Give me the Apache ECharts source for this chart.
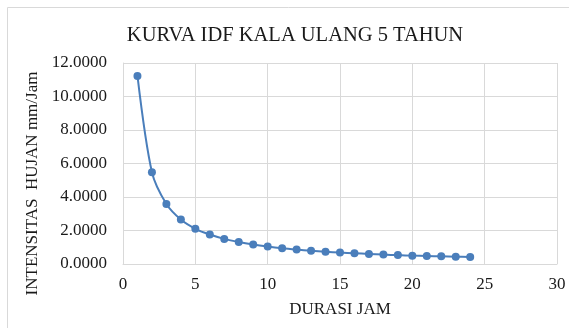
<!DOCTYPE html>
<html lang="en">
<head>
    <meta charset="UTF-8">
    <title>chart</title>
    <style>
        html, body { margin: 0; padding: 0; background: #fff; }
    </style>
</head>
<body>
<div id="container" style="width:569px;height:328px"></div>

<script type="text/javascript" src="https://cdn.jsdelivr.net/npm/echarts@6/dist/echarts.min.js"></script>

<script type="text/javascript">
    // durasi (jam) dan intensitas hujan (mm/jam)
    var durasi = [1, 2, 3, 4, 5, 6, 7, 8, 9, 10, 11, 12, 13, 14, 15, 16, 17, 18, 19, 20, 21, 22, 23, 24];
    var intensitas = [11.23, 5.48, 3.58, 2.65, 2.10, 1.76, 1.50, 1.31, 1.16, 1.04, 0.94, 0.86, 0.79,
        0.73, 0.68, 0.64, 0.60, 0.56, 0.53, 0.50, 0.48, 0.46, 0.44, 0.42];
    var xTicks = [0, 5, 10, 15, 20, 25, 30];
    var yTicks = [0, 2, 4, 6, 8, 10, 12];

    var lineColor = '#4a7ebb';
    var gridColor = '#d9d9d9';
    var textColor = '#1a1a1a';
    var fontFamily = '"Liberation Serif", "Times New Roman", serif';

    var myChart = echarts.init(document.getElementById('container'));

    var points = durasi.map(function (d, i) {
        return [d, intensitas[i]];
    });

    myChart.setOption({
        animation: false,
        title: {
            text: 'KURVA IDF KALA ULANG 5 TAHUN',
            left: 290,
            top: 20,
            textAlign: 'center',
            textStyle: {
                fontFamily: fontFamily,
                fontSize: 20.5,
                fontWeight: 'normal',
                color: textColor
            }
        },
        graphic: [{
            type: 'rect',
            shape: {x: 7.5, y: 7.5, width: 600, height: 400},
            style: {fill: 'none', stroke: '#d9d9d9', lineWidth: 1}
        }],
        grid: {
            left: 123,
            top: 63,
            right: 12,
            bottom: 64
        },
        xAxis: {
            type: 'value',
            min: xTicks[0],
            max: xTicks[xTicks.length - 1],
            interval: 5,
            name: 'DURASI JAM',
            nameLocation: 'middle',
            nameGap: 37,
            nameTextStyle: {
                fontFamily: fontFamily,
                fontSize: 17,
                color: textColor
            },
            axisLine: {show: true, lineStyle: {color: gridColor}},
            axisTick: {show: false},
            axisLabel: {
                margin: 12,
                fontFamily: fontFamily,
                fontSize: 17,
                color: textColor
            },
            splitLine: {show: true, lineStyle: {color: gridColor}}
        },
        yAxis: {
            type: 'value',
            min: yTicks[0],
            max: yTicks[yTicks.length - 1],
            interval: 2,
            name: 'INTENSITAS  HUJAN mm/Jam',
            nameLocation: 'middle',
            nameGap: 76,
            nameTextStyle: {
                fontFamily: fontFamily,
                fontSize: 17,
                color: textColor,
                padding: [0, 0, 0, -40]
            },
            axisLine: {show: true, lineStyle: {color: gridColor}},
            axisTick: {show: false},
            axisLabel: {
                margin: 16,
                fontFamily: fontFamily,
                fontSize: 17,
                color: textColor,
                formatter: function (v) {
                    return v.toFixed(4);
                }
            },
            splitLine: {show: true, lineStyle: {color: gridColor}}
        },
        series: [{
            type: 'line',
            data: points,
            smooth: 0.3,
            symbol: 'circle',
            symbolSize: 8,
            itemStyle: {color: lineColor},
            lineStyle: {color: lineColor, width: 2}
        }]
    });
</script>
</body>
</html>
